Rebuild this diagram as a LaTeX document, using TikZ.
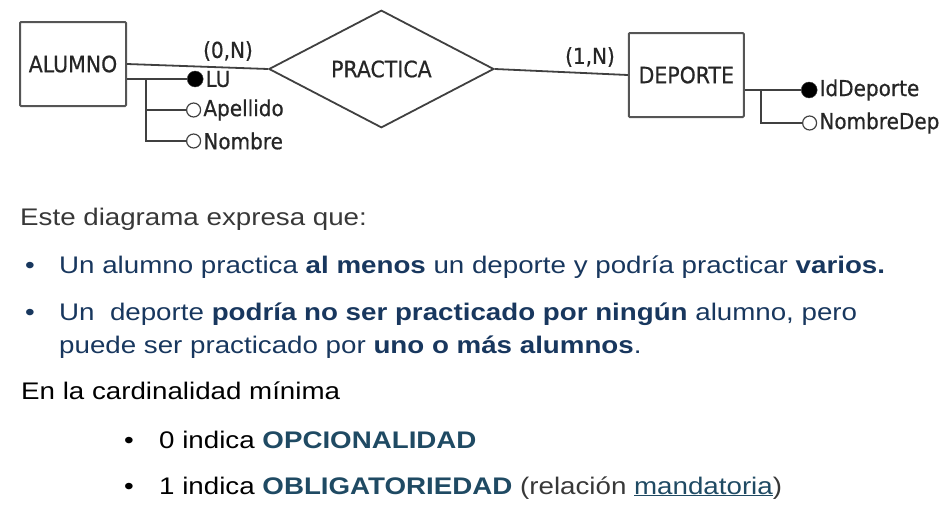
\documentclass[tikz,border=0pt]{standalone}
\usepackage{fontspec}
\usepackage{xcolor}
\usepackage{tikz}
\usetikzlibrary{shapes,positioning}
\setmainfont{Liberation Sans}
\newfontfamily\erfont[FakeStretch=0.91,FakeBold=0.6]{DejaVu Sans}
\newfontfamily\bodyfont[FakeStretch=1.155]{Liberation Sans}
\definecolor{erline}{HTML}{404040}
\definecolor{erbox}{HTML}{555555}
\definecolor{ertext}{HTML}{262626}
\definecolor{navytext}{HTML}{18375E}
\definecolor{boldteal}{HTML}{1F4A63}
\definecolor{graytext}{HTML}{383838}

\begin{document}
\begin{tikzpicture} [x=1pt, y=-1pt,
       entity/.style 2 args = {rectangle, minimum width=#1, minimum height=#2,
                               line width=2pt, draw=erbox, rounded corners=1pt,
                               font=\erfont\fontsize{22.5}{26}\selectfont, text=ertext},
       relation/.style 2 args = {diamond, minimum width=#1, minimum height=#2, inner sep=0pt,
                               line width=1.8pt, draw=erline,
                               font=\erfont\fontsize{22.5}{26}\selectfont, text=ertext},
       keyattr/.style = {circle, fill=black, draw=erline, inner sep=0pt, minimum size=16pt},
       optattr/.style = {circle, fill=white, draw=erline, line width=1.2pt, inner sep=0pt, minimum size=14pt},
       attrname/.style = {inner sep=1pt, anchor=west, text=ertext,
                               font=\erfont\fontsize{22}{26}\selectfont},
       card/.style = {inner sep=0pt, text=ertext, font=\erfont\fontsize{22}{26}\selectfont},
       erlink/.style = {line width=1.8pt, draw=erline},
       para/.style = {anchor=base west, inner sep=0pt, font=\bodyfont\fontsize{24}{28}\selectfont}]
	\useasboundingbox (0,0) rectangle (950,514);
	%% Entities and relation
	\node [entity={106pt}{84pt}] (alu) at (73,64) {ALUMNO};
	\node [relation={225pt}{104pt}, right=141pt of alu, yshift=-5pt] (pra) {PRACTICA};
	\node [entity={115pt}{84pt}, right=133pt of pra, yshift=-6pt] (dep) {DEPORTE};
	\draw [erlink] (alu.east) -- (pra.west);
	\draw [erlink] (pra.east) -- (dep.west);
	\node [card] (cardalu) at (228,51) {(0,N)};
	\node [card] (carddep) at (590,57) {(1,N)};
	%% Attributes of ALUMNO
	\node [keyattr, anchor=west] (lu) at (187,79) {};
	\node [optattr, anchor=west] (ape) at (186,110) {};
	\node [optattr, anchor=west] (nom) at (186,141) {};
	\node [attrname, right=1pt of lu] (lutxt) {LU};
	\node [attrname, right=1pt of ape] (apetxt) {Apellido};
	\node [attrname, right=1pt of nom] (nomtxt) {Nombre};
	\coordinate (albranch) at (146,79);
	\draw [erlink] (alu.east |- lu) -- (lu);
	\draw [erlink] (albranch) |- (ape) (albranch) |- (nom);
	%% Attributes of DEPORTE
	\node [keyattr, anchor=west] (idd) at (801,90) {};
	\node [optattr, anchor=west] (nod) at (802,123) {};
	\node [attrname, right=1pt of idd] (iddtxt) {IdDeporte};
	\node [attrname, right=1pt of nod] (nodtxt) {NombreDep};
	\coordinate (depbranch) at (761,90);
	\draw [erlink] (dep.east |- idd) -- (idd);
	\draw [erlink] (depbranch) |- (nod);
	%% Text below
	\node [para, text=graytext] (intro) at (20,225) {Este diagrama expresa que:};
	\node [para, text=navytext] (bulA) at (25,273) {•};
	\node [para, text=navytext] (lineA) at (59,273) {Un alumno practica \textbf{al menos} un deporte y podría practicar \textbf{varios.}};
	\node [para, text=navytext] (bulB) at (25,320) {•};
	\node [para, text=navytext] (lineB) at (59,320) {Un~~deporte \textbf{podría no ser practicado por ningún} alumno, pero};
	\node [para, text=navytext] (lineC) at (59,353) {puede ser practicado por \textbf{uno o más alumnos}.};
	\node [para, text=black] (cardmin) at (21,399) {En la cardinalidad mínima};
	\node [para, text=black] (bulC) at (124,448) {•};
	\node [para, text=black] (lineD) at (159,448) {0 indica \textcolor{boldteal}{\textbf{OPCIONALIDAD}}};
	\node [para, text=black] (bulD) at (124,494) {•};
	\node [para, text=black] (lineE) at (159,494) {1 indica \textcolor{boldteal}{\textbf{OBLIGATORIEDAD}} \textcolor{graytext}{(relación \textcolor{boldteal}{\underline{mandatoria}})}};
\end{tikzpicture}
\end{document}
